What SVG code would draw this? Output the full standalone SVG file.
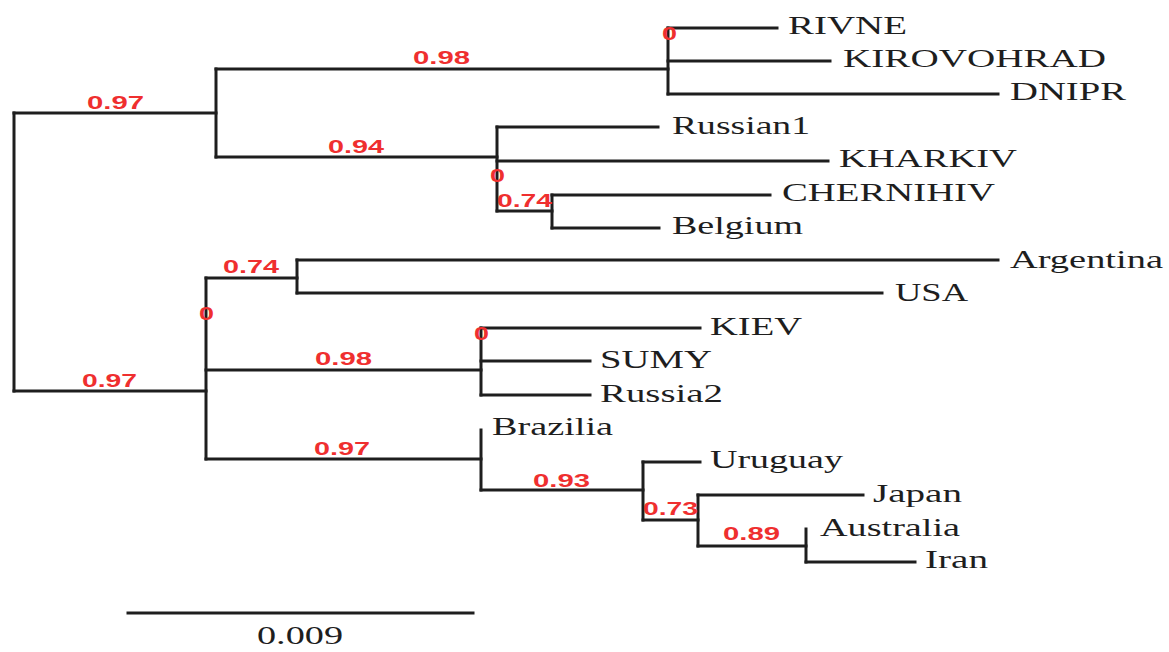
<svg xmlns="http://www.w3.org/2000/svg" width="1169" height="652" viewBox="0 0 1169 652">
<style>
.br{fill:none;stroke:#1e1e1e;stroke-width:3;stroke-linecap:square;stroke-linejoin:miter}
.lf{font-family:"Liberation Serif","Times New Roman",serif;font-size:26px;fill:#1e1e1e}
.sp{font-family:"Liberation Sans",Arial,sans-serif;font-size:19px;font-weight:bold;fill:#ef2f2f}
</style>
<rect width="1169" height="652" fill="#ffffff"/>
<g id="connectors">
<path class="br" d="M14,113 V391"/>
<path class="br" d="M14,113 H216"/>
<path class="br" d="M216,69 V157"/>
<path class="br" d="M216,69 H668"/>
<path class="br" d="M668,28 V94"/>
<path class="br" d="M668,28 H777"/>
<path class="br" d="M668,61 H830"/>
<path class="br" d="M668,94 H998"/>
<path class="br" d="M216,157 H497"/>
<path class="br" d="M497,127 V211"/>
<path class="br" d="M497,127 H658"/>
<path class="br" d="M497,161 H828"/>
<path class="br" d="M497,211 H552"/>
<path class="br" d="M552,195 V228"/>
<path class="br" d="M552,195 H770"/>
<path class="br" d="M552,228 H659"/>
<path class="br" d="M14,391 H206"/>
<path class="br" d="M206,278 V459"/>
<path class="br" d="M206,278 H297"/>
<path class="br" d="M297,260 V293"/>
<path class="br" d="M297,260 H998"/>
<path class="br" d="M297,293 H882"/>
<path class="br" d="M206,370 H481"/>
<path class="br" d="M481,328 V395"/>
<path class="br" d="M481,328 H700"/>
<path class="br" d="M481,361 H590"/>
<path class="br" d="M481,395 H590"/>
<path class="br" d="M206,459 H481"/>
<path class="br" d="M481,430 V490"/>
<path class="br" d="M481,490 H643"/>
<path class="br" d="M643,462 V520"/>
<path class="br" d="M643,462 H700"/>
<path class="br" d="M643,520 H698"/>
<path class="br" d="M698,495 V546"/>
<path class="br" d="M698,495 H863"/>
<path class="br" d="M698,546 H806"/>
<path class="br" d="M806,529 V562"/>
<path class="br" d="M806,562 H915"/>
</g>
<g id="leaf-rivne"><text class="lf" x="788" y="34" textLength="119" lengthAdjust="spacingAndGlyphs">RIVNE</text></g>
<g id="leaf-kirovohrad"><text class="lf" x="843" y="67" textLength="263" lengthAdjust="spacingAndGlyphs">KIROVOHRAD</text></g>
<g id="leaf-dnipr"><text class="lf" x="1010" y="100" textLength="116" lengthAdjust="spacingAndGlyphs">DNIPR</text></g>
<g id="leaf-russian1"><text class="lf" x="672" y="134" textLength="138" lengthAdjust="spacingAndGlyphs">Russian1</text></g>
<g id="leaf-kharkiv"><text class="lf" x="839" y="167" textLength="178" lengthAdjust="spacingAndGlyphs">KHARKIV</text></g>
<g id="leaf-chernihiv"><text class="lf" x="782" y="201" textLength="213" lengthAdjust="spacingAndGlyphs">CHERNIHIV</text></g>
<g id="leaf-belgium"><text class="lf" x="672" y="234" textLength="131" lengthAdjust="spacingAndGlyphs">Belgium</text></g>
<g id="leaf-argentina"><text class="lf" x="1010" y="268" textLength="153" lengthAdjust="spacingAndGlyphs">Argentina</text></g>
<g id="leaf-usa"><text class="lf" x="895" y="301" textLength="73" lengthAdjust="spacingAndGlyphs">USA</text></g>
<g id="leaf-kiev"><text class="lf" x="710" y="335" textLength="92" lengthAdjust="spacingAndGlyphs">KIEV</text></g>
<g id="leaf-sumy"><text class="lf" x="600" y="368" textLength="112" lengthAdjust="spacingAndGlyphs">SUMY</text></g>
<g id="leaf-russia2"><text class="lf" x="600" y="402" textLength="123" lengthAdjust="spacingAndGlyphs">Russia2</text></g>
<g id="leaf-brazilia"><text class="lf" x="492" y="435" textLength="121" lengthAdjust="spacingAndGlyphs">Brazilia</text></g>
<g id="leaf-uruguay"><text class="lf" x="710" y="468" textLength="133" lengthAdjust="spacingAndGlyphs">Uruguay</text></g>
<g id="leaf-japan"><text class="lf" x="873" y="502" textLength="89" lengthAdjust="spacingAndGlyphs">Japan</text></g>
<g id="leaf-australia"><text class="lf" x="820" y="536" textLength="140" lengthAdjust="spacingAndGlyphs">Australia</text></g>
<g id="leaf-iran"><text class="lf" x="925" y="568" textLength="63" lengthAdjust="spacingAndGlyphs">Iran</text></g>
<g id="support-root-top"><text class="sp" x="87" y="109" textLength="57" lengthAdjust="spacingAndGlyphs">0.97</text></g>
<g id="support-ukr1"><text class="sp" x="413" y="64" textLength="57" lengthAdjust="spacingAndGlyphs">0.98</text></g>
<g id="support-rivne-node"><text class="sp" x="662" y="40" textLength="15" lengthAdjust="spacingAndGlyphs">0</text></g>
<g id="support-ukr2"><text class="sp" x="328" y="153" textLength="56" lengthAdjust="spacingAndGlyphs">0.94</text></g>
<g id="support-russian1-node"><text class="sp" x="490" y="182" textLength="15" lengthAdjust="spacingAndGlyphs">0</text></g>
<g id="support-chernihiv"><text class="sp" x="497" y="207" textLength="55" lengthAdjust="spacingAndGlyphs">0.74</text></g>
<g id="support-root-bottom"><text class="sp" x="82" y="387" textLength="55" lengthAdjust="spacingAndGlyphs">0.97</text></g>
<g id="support-e-node"><text class="sp" x="199" y="320" textLength="15" lengthAdjust="spacingAndGlyphs">0</text></g>
<g id="support-argentina"><text class="sp" x="223" y="273" textLength="56" lengthAdjust="spacingAndGlyphs">0.74</text></g>
<g id="support-kiev"><text class="sp" x="315" y="365" textLength="57" lengthAdjust="spacingAndGlyphs">0.98</text></g>
<g id="support-kiev-node"><text class="sp" x="474" y="340" textLength="15" lengthAdjust="spacingAndGlyphs">0</text></g>
<g id="support-brazilia"><text class="sp" x="314" y="455" textLength="56" lengthAdjust="spacingAndGlyphs">0.97</text></g>
<g id="support-uruguay"><text class="sp" x="533" y="487" textLength="57" lengthAdjust="spacingAndGlyphs">0.93</text></g>
<g id="support-japan"><text class="sp" x="643" y="515" textLength="55" lengthAdjust="spacingAndGlyphs">0.73</text></g>
<g id="support-australia"><text class="sp" x="723" y="540" textLength="57" lengthAdjust="spacingAndGlyphs">0.89</text></g>
<g id="scale-bar">
<path class="br" d="M128,613 H473"/>
<text class="lf" x="257" y="644" textLength="86" lengthAdjust="spacingAndGlyphs">0.009</text>
</g>
</svg>
